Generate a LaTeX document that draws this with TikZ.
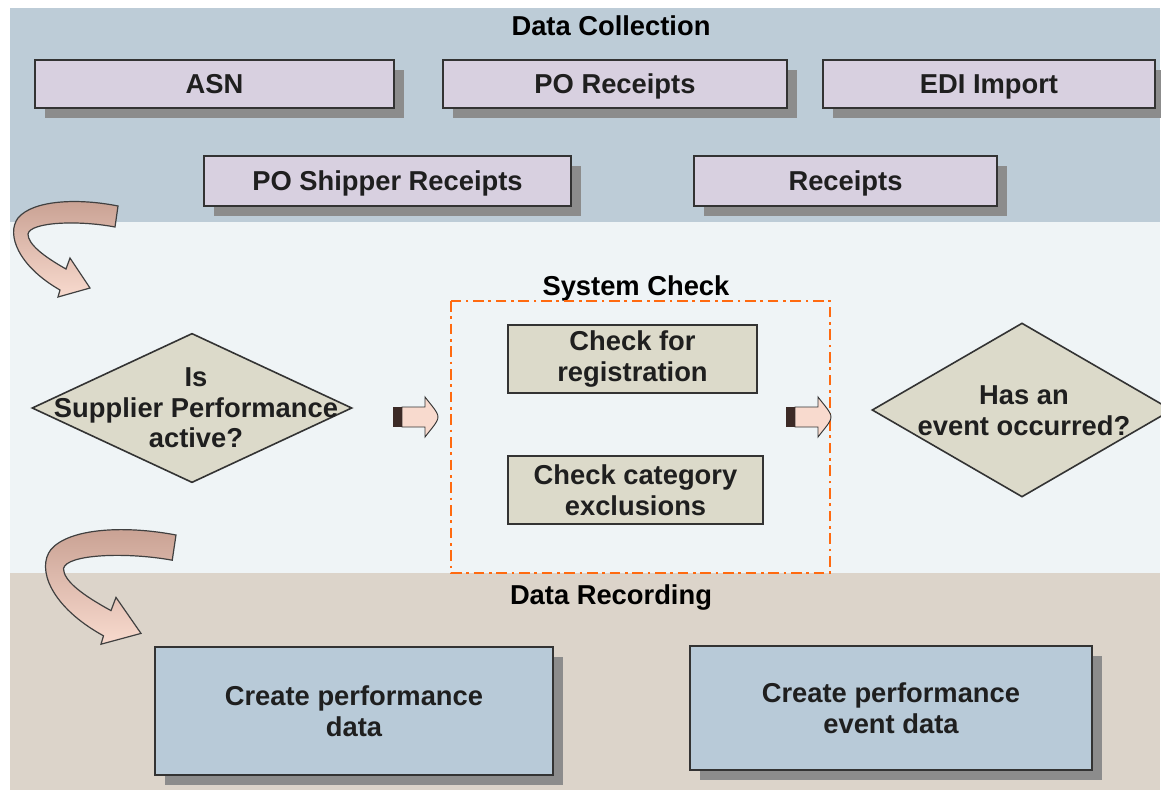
\documentclass[tikz,border=0pt]{standalone}
\usepackage{fontspec}
\setmainfont{Liberation Sans}
\usetikzlibrary{shapes.geometric,shadows}

\definecolor{collectband}{RGB}{189,204,215}
\definecolor{checkband}{RGB}{239,244,246}
\definecolor{recordband}{RGB}{220,212,202}
\definecolor{lavender}{RGB}{216,208,224}
\definecolor{stone}{RGB}{220,218,202}
\definecolor{steel}{RGB}{184,202,216}
\definecolor{shadowgray}{RGB}{140,140,140}
\definecolor{dashorange}{RGB}{255,106,16}
\definecolor{arrowdark}{RGB}{200,160,146}
\definecolor{arrowlight}{RGB}{248,218,206}
\definecolor{tailbrown}{RGB}{60,42,38}

\tikzset{every picture/.style={line width=0.75pt},
  boxtext/.style={font=\bfseries\fontsize{20.5}{23}\selectfont, text=black!88, align=center},
  shadowbox/.style={boxtext, draw=black!80, line width=1.2pt, inner sep=0pt, drop shadow={shadow xshift=7.5pt, shadow yshift=-7.5pt, fill=shadowgray, opacity=1}},
  collectbox/.style={shadowbox, fill=lavender, minimum height=36pt, text depth=0.5pt},
  recordbox/.style={shadowbox, fill=steel},
  checkbox/.style={boxtext, draw=black!80, line width=1.2pt, fill=stone, minimum height=51pt, inner sep=0pt},
  decision/.style={diamond, draw=black!80, line width=1.2pt, fill=stone, inner sep=0pt},
  bandtitle/.style={boxtext, text=black, inner sep=0pt}
}

% curved ribbon arrow, origin at the upper corner of its tail
\newcommand{\bendarrow}[1]{%
  \begin{scope}[#1]
    \draw [black!75, line width=0.9pt, top color=arrowdark, bottom color=arrowlight] (0,0) .. controls (-40,-8) and (-85,-6) .. (-100,12) .. controls (-112,28) and (-100,60) .. (-58,84) -- (-60,91) -- (-28,82) -- (-48,52) -- (-52,63) .. controls (-75,50) and (-90,38) .. (-90,28) .. controls (-88,16) and (-40,14) .. (-3,21) -- cycle ;
  \end{scope}}

% small block arrow, origin at the middle of its tail
\newcommand{\flowarrow}[2]{%
  \begin{scope}[shift={(#1,#2)}]
    \draw [black!80, line width=0.7pt, fill=arrowlight] (9,-10) -- (32,-10) -- (32,-20) .. controls (38,-12) and (45,-5) .. (45,0) .. controls (45,5) and (38,12) .. (32,20) -- (32,10) -- (9,10) -- cycle ;
    \fill [tailbrown] (0,-10) rectangle (9,10) ;
  \end{scope}}

\begin{document}
\begin{tikzpicture}[x=0.75pt,y=0.75pt,yscale=-1,xscale=1]
	\useasboundingbox (0,0) rectangle (1161,796);
	
	% bands
	\fill [collectband] (10,8) rectangle (1160,222) ;
	\fill [checkband] (10,222) rectangle (1160,573) ;
	\fill [recordband] (10,573) rectangle (1160,790) ;
	
	% Data Collection
	\node [bandtitle] (collect) at (611,26) {Data Collection};
	\node [collectbox, minimum width=269.25pt] (asn) at (214.5,84) {ASN};
	\node [collectbox, minimum width=258pt] (poreceipts) at (615,84) {PO Receipts};
	\node [collectbox, minimum width=249pt] (edi) at (989,84) {EDI Import};
	\node [collectbox, minimum width=275.25pt, minimum height=37.5pt] (shipper) at (387.5,181) {PO Shipper Receipts};
	\node [collectbox, minimum width=227.25pt, minimum height=37.5pt] (receipts) at (845.5,181) {Receipts};
	
	% System Check
	\bendarrow{shift={(118,206)}}
	\node [bandtitle] (syscheck) at (636,288) {System Check};
	\draw [dashorange, line width=2pt, dash pattern=on 8pt off 3.5pt on 2pt off 3.5pt] (451,301) rectangle (830,573) ;
	\node [decision, minimum width=240pt, minimum height=112pt] (active) at (192,408) {};
	\node [boxtext] (activetext) at (196,408) {Is\\Supplier Performance\\active?};
	\flowarrow{393}{417}
	\node [checkbox, minimum width=186.75pt] (registration) at (632.5,359) {Check for\\registration};
	\node [checkbox, minimum width=191.25pt] (exclusions) at (635.5,490) {Check category\\exclusions};
	\flowarrow{786}{417}
	\node [decision, minimum width=225pt, minimum height=130.5pt] (event) at (1022,410) {};
	\node [boxtext] (eventtext) at (1024,411) {Has an\\event occurred?};
	
	% Data Recording
	\bendarrow{shift={(176,535)}, xscale=1.25, yscale=1.2}
	\node [bandtitle] (record) at (611,597) {Data Recording};
	\node [recordbox, minimum width=298.5pt, minimum height=96pt] (perfdata) at (354,711) {Create performance\\data};
	\node [recordbox, minimum width=301.5pt, minimum height=93pt] (eventdata) at (891,708) {Create performance\\event data};
	
\end{tikzpicture}
\end{document}
